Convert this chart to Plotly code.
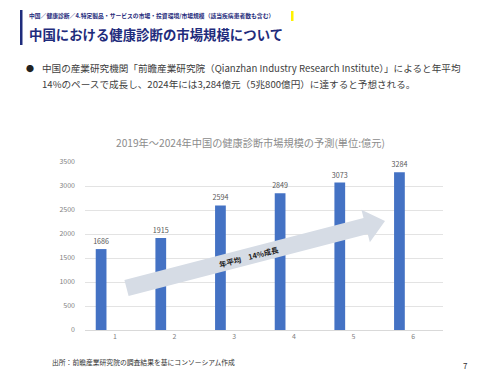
import math
import plotly.graph_objects as go

# ---- data ----
categories = ["1", "2", "3", "4", "5", "6"]
market_size = [1686, 1915, 2594, 2849, 3073, 3284]
y_ticks = [0, 500, 1000, 1500, 2000, 2500, 3000, 3500]

chart_title = "2019年～2024年中国の健康診断市場規模の予測(単位:億元)"
breadcrumb = "中国／健康診断／4.特定製品・サービスの市場・投資環境/市場規模（該当疾病患者数も含む）"
page_title = "中国における健康診断の市場規模について"
bullet_line1 = "中国の産業研究機関「前瞻産業研究院（Qianzhan Industry Research Institute）」によると年平均"
bullet_line2 = "14%のペースで成長し、2024年には3,284億元（5兆800億円）に達すると予想される。"
source_note = "出所：前瞻産業研究院の調査結果を基にコンソーシアム作成"
arrow_label = "年平均　14%成長"
page_no = "7"

W, H = 500, 375
L, R, T, B = 77, 65, 154, 53
FONT = "Noto Sans CJK JP, Noto Sans, sans-serif"
NAVY = "#1F2C7C"


def px(x):
    return (x - L) / (W - L - R)


def py(y):
    return (H - B - y) / (H - T - B)


fig = go.Figure()
fig.add_trace(go.Bar(
    x=categories, y=market_size,
    width=0.18, offset=-0.32,
    marker=dict(color="#4472C4", line=dict(width=0)),
    text=[str(v) for v in market_size], textposition="outside",
    constraintext="none",
    textfont=dict(size=7.2, color="#595959", family=FONT),
    cliponaxis=False, showlegend=False,
))

shapes = []
# header navy bar
shapes.append(dict(type="rect", xref="paper", yref="paper",
                   x0=px(12), x1=px(14.5), y0=py(2), y1=py(37),
                   fillcolor=NAVY, line=dict(width=0), layer="above"))
# yellow marker
shapes.append(dict(type="rect", xref="paper", yref="paper",
                   x0=px(283), x1=px(285.5), y0=py(3), y1=py(13),
                   fillcolor="#FFF200", line=dict(width=0), layer="above"))

# growth arrow (pixel geometry -> paper)
sx, sy = 118.5, 280.0
tx, ty = 377.0, 213.0
dx, dy = tx - sx, ty - sy
ln = math.hypot(dx, dy)
ux, uy = dx / ln, dy / ln
nx, ny = -uy, ux
half_body, half_head, head_len = 8.3, 16.8, 20.0
bx, by = tx - ux * head_len, ty - uy * head_len
pts = [
    (sx + nx * half_body, sy + ny * half_body),
    (bx + nx * half_body, by + ny * half_body),
    (bx + nx * half_head, by + ny * half_head),
    (tx, ty),
    (bx - nx * half_head, by - ny * half_head),
    (bx - nx * half_body, by - ny * half_body),
    (sx - nx * half_body, sy - ny * half_body),
]
path = "M " + " L ".join(f"{px(x):.5f},{py(y):.5f}" for x, y in pts) + " Z"
shapes.append(dict(type="path", xref="paper", yref="paper", path=path,
                   fillcolor="#D6DCE5", line=dict(width=0), layer="above"))
angle = math.degrees(math.atan2(dy, dx))

annotations = [
    dict(text="<b>" + breadcrumb + "</b>", x=px(19), y=py(7.5), xref="paper", yref="paper",
         xanchor="left", yanchor="middle", showarrow=False,
         font=dict(size=5.8, color=NAVY, family=FONT)),
    dict(text="<b>" + page_title + "</b>", x=px(18.5), y=py(25.5), xref="paper", yref="paper",
         xanchor="left", yanchor="middle", showarrow=False,
         font=dict(size=13.4, color=NAVY, family=FONT)),
    dict(text="●", x=px(16), y=py(60), xref="paper", yref="paper",
         xanchor="left", yanchor="middle", showarrow=False,
         font=dict(size=8, color="#222222", family=FONT)),
    dict(text=bullet_line1, x=px(32), y=py(60), xref="paper", yref="paper",
         xanchor="left", yanchor="middle", showarrow=False,
         font=dict(size=9.6, color="#404040", family=FONT)),
    dict(text=bullet_line2, x=px(32), y=py(76), xref="paper", yref="paper",
         xanchor="left", yanchor="middle", showarrow=False,
         font=dict(size=9.6, color="#404040", family=FONT)),
    dict(text=chart_title, x=px(242), y=py(134), xref="paper", yref="paper",
         xanchor="center", yanchor="middle", showarrow=False,
         font=dict(size=10.2, color="#8C8C8C", family=FONT)),
    dict(text="<b>" + arrow_label + "</b>", x=px(241), y=py(248), xref="paper", yref="paper",
         xanchor="center", yanchor="middle", showarrow=False, textangle=angle,
         font=dict(size=7.5, color="#222222", family=FONT)),
    dict(text=source_note, x=px(41.5), y=py(354), xref="paper", yref="paper",
         xanchor="left", yanchor="middle", showarrow=False,
         font=dict(size=6.8, color="#333333", family=FONT)),
    dict(text=page_no, x=px(458), y=py(357), xref="paper", yref="paper",
         xanchor="center", yanchor="middle", showarrow=False,
         font=dict(size=8, color="#333333", family=FONT)),
]

fig.update_layout(
    width=W, height=H,
    margin=dict(l=L, r=R, t=T, b=B, pad=0),
    paper_bgcolor="white", plot_bgcolor="white",
    shapes=shapes, annotations=annotations,
    bargap=0.2, showlegend=False,
    font=dict(family=FONT),
)
fig.update_xaxes(type="category", showgrid=False, showline=True,
                 linecolor="#D9D9D9", linewidth=1, ticks="",
                 tickfont=dict(size=7, color="#7F7F7F", family=FONT))
fig.update_yaxes(range=[0, 3500], tickvals=y_ticks, showgrid=True,
                 gridcolor="#E3E3E3", gridwidth=1, zeroline=False,
                 showline=False, ticks="", ticklabelstandoff=9,
                 tickfont=dict(size=7, color="#7F7F7F", family=FONT))

fig.write_html("out.html")
